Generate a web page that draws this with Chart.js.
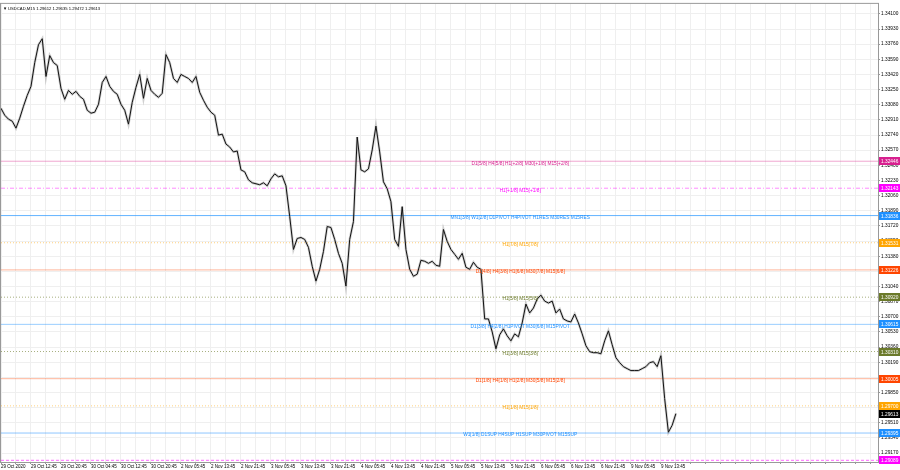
<!DOCTYPE html>
<html>
<head>
<meta charset="utf-8">
<script src="https://cdn.jsdelivr.net/npm/chart.js@4.4.0/dist/chart.umd.min.js"></script>
<style>
  html, body { margin: 0; padding: 0; background: #fff; }
</style>
</head>
<body>
<canvas id="chart" width="900" height="470"></canvas>
<script>
// Chart title (symbol, timeframe, O H L C)
const symbolTitle = 'USDCAD,M15 1.29612 1.29635 1.29472 1.29613';

// Time labels, one every 8 hours of bars
const timeLabels = [
  '29 Oct 2020', '29 Oct 12:45', '29 Oct 20:45', '30 Oct 04:45', '30 Oct 12:45', '30 Oct 20:45',
  '2 Nov 05:45', '2 Nov 13:45', '2 Nov 21:45', '3 Nov 05:45', '3 Nov 13:45', '3 Nov 21:45',
  '4 Nov 05:45', '4 Nov 13:45', '4 Nov 21:45', '5 Nov 05:45', '5 Nov 13:45', '5 Nov 21:45',
  '6 Nov 05:45', '6 Nov 13:45', '6 Nov 21:45', '9 Nov 05:45', '9 Nov 13:45'
];

// Price scale labels
const priceTicks = [
  1.34100, 1.33930, 1.33760, 1.33590, 1.33420, 1.33250, 1.33080, 1.32910, 1.32740, 1.32570,
  1.32400, 1.32230, 1.32060, 1.31890, 1.31720, 1.31550, 1.31380, 1.31210, 1.31040, 1.30870,
  1.30700, 1.30530, 1.30360, 1.30190, 1.30020, 1.29850, 1.29680, 1.29510, 1.29340, 1.29170
];

// Hourly closes (hour 0 = first bar)
const closes = [
  1.33040, 1.32962, 1.32918, 1.32895, 1.32817, 1.32929, 1.33063, 1.33185, 1.33286, 1.33553,
  1.33754, 1.33821, 1.33397, 1.33632, 1.33553, 1.33520, 1.33264, 1.33141, 1.33241, 1.33197,
  1.33230, 1.33174, 1.33141, 1.33018, 1.32985, 1.32996, 1.33085, 1.33330, 1.33397, 1.33286,
  1.33230, 1.33197, 1.33085, 1.33018, 1.32862, 1.33107, 1.33275, 1.33420, 1.33152, 1.33375,
  1.33241, 1.33197, 1.33163, 1.33208, 1.33643, 1.33553, 1.33375, 1.33330, 1.33420, 1.33397,
  1.33375, 1.33330, 1.33397, 1.33219, 1.33130, 1.33052, 1.32996, 1.32962, 1.32739, 1.32750,
  1.32639, 1.32605, 1.32550, 1.32561, 1.32349, 1.32327, 1.32237, 1.32204, 1.32193, 1.32182,
  1.32204, 1.32170, 1.32248, 1.32304, 1.32271, 1.32282, 1.32170, 1.31825, 1.31456, 1.31579,
  1.31590, 1.31568, 1.31479, 1.31267, 1.31100, 1.31233, 1.31434, 1.31713, 1.31702, 1.31568,
  1.31412, 1.31300, 1.31044, 1.31568, 1.31769, 1.32717, 1.32349, 1.32327, 1.32360, 1.32572,
  1.32840, 1.32550, 1.32215, 1.32137, 1.31992, 1.31568, 1.31490, 1.31936, 1.31456, 1.31233,
  1.31155, 1.31178, 1.31334, 1.31323, 1.31300, 1.31323, 1.31278, 1.31267, 1.31680, 1.31546,
  1.31456, 1.31401, 1.31345, 1.31412, 1.31256, 1.31233, 1.31312, 1.31256, 1.31233, 1.30676,
  1.30676, 1.30531, 1.30341, 1.30497, 1.30564, 1.30486, 1.30430, 1.30508, 1.30475, 1.30631,
  1.30843, 1.30743, 1.30798, 1.30899, 1.30943, 1.30876, 1.30854, 1.30876, 1.30743, 1.30787,
  1.30676, 1.30653, 1.30642, 1.30731, 1.30631, 1.30508, 1.30375, 1.30308, 1.30297, 1.30297,
  1.30285, 1.30430, 1.30542, 1.30386, 1.30241, 1.30185, 1.30140, 1.30118, 1.30096, 1.30096,
  1.30096, 1.30118, 1.30140, 1.30185, 1.30196, 1.30140, 1.30263, 1.29783, 1.29404, 1.29482,
  1.29613
];
const lastPrice = 1.29613;

// Murrey math levels
const levelValues = [
  1.32446, 1.32143, 1.31836, 1.31531, 1.31226, 1.30920,
  1.30615, 1.30310, 1.30005, 1.29700, 1.29395, 1.29089
];
const levelTexts = [
  'D1[5/8] H4[5/8] H1[+2/8] M30[+1/8] M15[+2/8]',
  'H1[+1/8] M15[+1/8]',
  'MN1[3/8] W1[2/8] D1PIVOT H4PIVOT H1RES M30RES M15RES',
  'H1[7/8] M15[7/8]',
  'D1[4/8] H4[3/8] H1[6/8] M30[7/8] M15[6/8]',
  'H1[5/8] M15[5/8]',
  'D1[3/8] H4[2/8] H1PIVOT M30[6/8] M15PIVOT',
  'H1[3/8] M15[3/8]',
  'D1[1/8] H4[1/8] H1[2/8] M30[5/8] M15[2/8]',
  'H1[1/8] M15[1/8]',
  'W1[1/8] D1SUP H4SUP H1SUP M30PIVOT M15SUP',
  ''
];

// styles for the levels
const levelColors = ['#d8208f', '#ff00ff', '#1e90ff', '#ffa500', '#ff4500', '#6b7a2a',
                     '#1e90ff', '#6b7a2a', '#ff4500', '#ffa500', '#1e90ff', '#ff00ff'];
const levelLine = ['rgba(222,60,150,0.45)', 'rgba(255,0,255,0.45)', 'rgba(60,160,255,0.8)',
                   'rgba(255,165,0,0.5)', 'rgba(255,69,0,0.4)', 'rgba(107,122,42,0.6)',
                   'rgba(30,144,255,0.45)', 'rgba(107,122,42,0.6)', 'rgba(255,69,0,0.4)',
                   'rgba(255,165,0,0.5)', 'rgba(30,144,255,0.5)', 'rgba(255,0,255,0.6)'];
const levelDash = [[], [4, 2, 1, 2], [], [1, 2], [], [1, 2], [], [1, 2], [], [1, 2], [], [3, 2]];

const viewHours = 233.9;
const FAMILY = '"Liberation Sans", Arial, sans-serif';
const FONT = { family: FAMILY, size: 4.8 };

const priceData = closes.map((c, i) => ({ x: i, y: c }));

const datasets = [
  { data: priceData, borderColor: '#111', borderWidth: 1, pointRadius: 0, tension: 0 },
  { data: priceData, borderColor: 'rgba(120,120,120,0.35)', borderWidth: 2.5, pointRadius: 0, tension: 0 }
];
levelValues.forEach((v, i) => {
  datasets.push({
    data: [{ x: 0, y: v }, { x: viewHours, y: v }],
    borderColor: levelLine[i],
    borderWidth: 1,
    borderDash: levelDash[i],
    pointRadius: 0
  });
});

// texts, tags and frame
const overlay = {
  id: 'overlay',
  afterDatasetsDraw(chart) {
    const { ctx, chartArea: a, scales: { y } } = chart;
    ctx.save();
    ctx.font = '4.8px ' + FAMILY;
    ctx.textAlign = 'center';
    ctx.textBaseline = 'middle';
    const cx = a.left + (a.right - a.left) * 0.592;
    levelValues.forEach((v, i) => {
      if (!levelTexts[i]) return;
      ctx.fillStyle = levelColors[i];
      ctx.fillText(levelTexts[i], cx, y.getPixelForValue(v) + 2);
    });
    ctx.textAlign = 'left';
    ctx.fillStyle = '#000';
    ctx.font = '4.2px ' + FAMILY;
    ctx.fillText('\u25BC', a.left + 2, a.top + 5);
    ctx.fillText(symbolTitle, a.left + 7, a.top + 5);
    ctx.restore();
  },
  afterDraw(chart) {
    const { ctx, chartArea: a, scales: { y } } = chart;
    ctx.save();
    ctx.strokeStyle = '#999';
    ctx.lineWidth = 1;
    ctx.strokeRect(a.left - 0.5, a.top - 0.5, a.right - a.left + 1, a.bottom - a.top + 1);
    ctx.font = '4.8px ' + FAMILY;
    ctx.textAlign = 'left';
    ctx.textBaseline = 'middle';
    const tag = (v, color) => {
      const py = Math.round(y.getPixelForValue(v));
      ctx.fillStyle = color;
      ctx.fillRect(a.right + 1, py - 4, 21, 8);
      ctx.fillStyle = '#fff';
      ctx.fillText(v.toFixed(5), a.right + 3, py + 0.5);
    };
    levelValues.forEach((v, i) => tag(v, levelColors[i]));
    tag(lastPrice, '#000');
    ctx.restore();
  }
};

new Chart(document.getElementById('chart'), {
  type: 'line',
  data: { datasets },
  plugins: [overlay],
  options: {
    responsive: false,
    animation: false,
    layout: { padding: { top: 1, left: 1, right: 0, bottom: 0 } },
    plugins: { legend: { display: false }, tooltip: { enabled: false } },
    scales: {
      x: {
        type: 'linear',
        min: 0,
        max: viewHours,
        ticks: {
          stepSize: 4,
          includeBounds: false,
          autoSkip: false,
          maxRotation: 0,
          align: 'start',
          padding: 0,
          color: '#000',
          font: { family: FAMILY, size: 4.5 },
          callback: (v) => (v % 8 === 0 ? (timeLabels[v / 8] || '') : '')
        },
        grid: { color: '#efefef', tickLength: 2, tickColor: '#999' },
        border: { color: '#999' },
        afterFit(s) { s.height = 8; }
      },
      y: {
        position: 'right',
        min: 1.29070,
        max: 1.34212,
        afterBuildTicks(s) { s.ticks = priceTicks.map(v => ({ value: v })); },
        ticks: {
          padding: 1,
          color: '#000',
          font: FONT,
          callback: (v) => v.toFixed(5)
        },
        grid: { color: '#efefef', tickLength: 2, tickColor: '#999' },
        border: { color: '#999' },
        afterFit(s) { s.width = 22; }
      }
    }
  }
});
</script>
</body>
</html>
